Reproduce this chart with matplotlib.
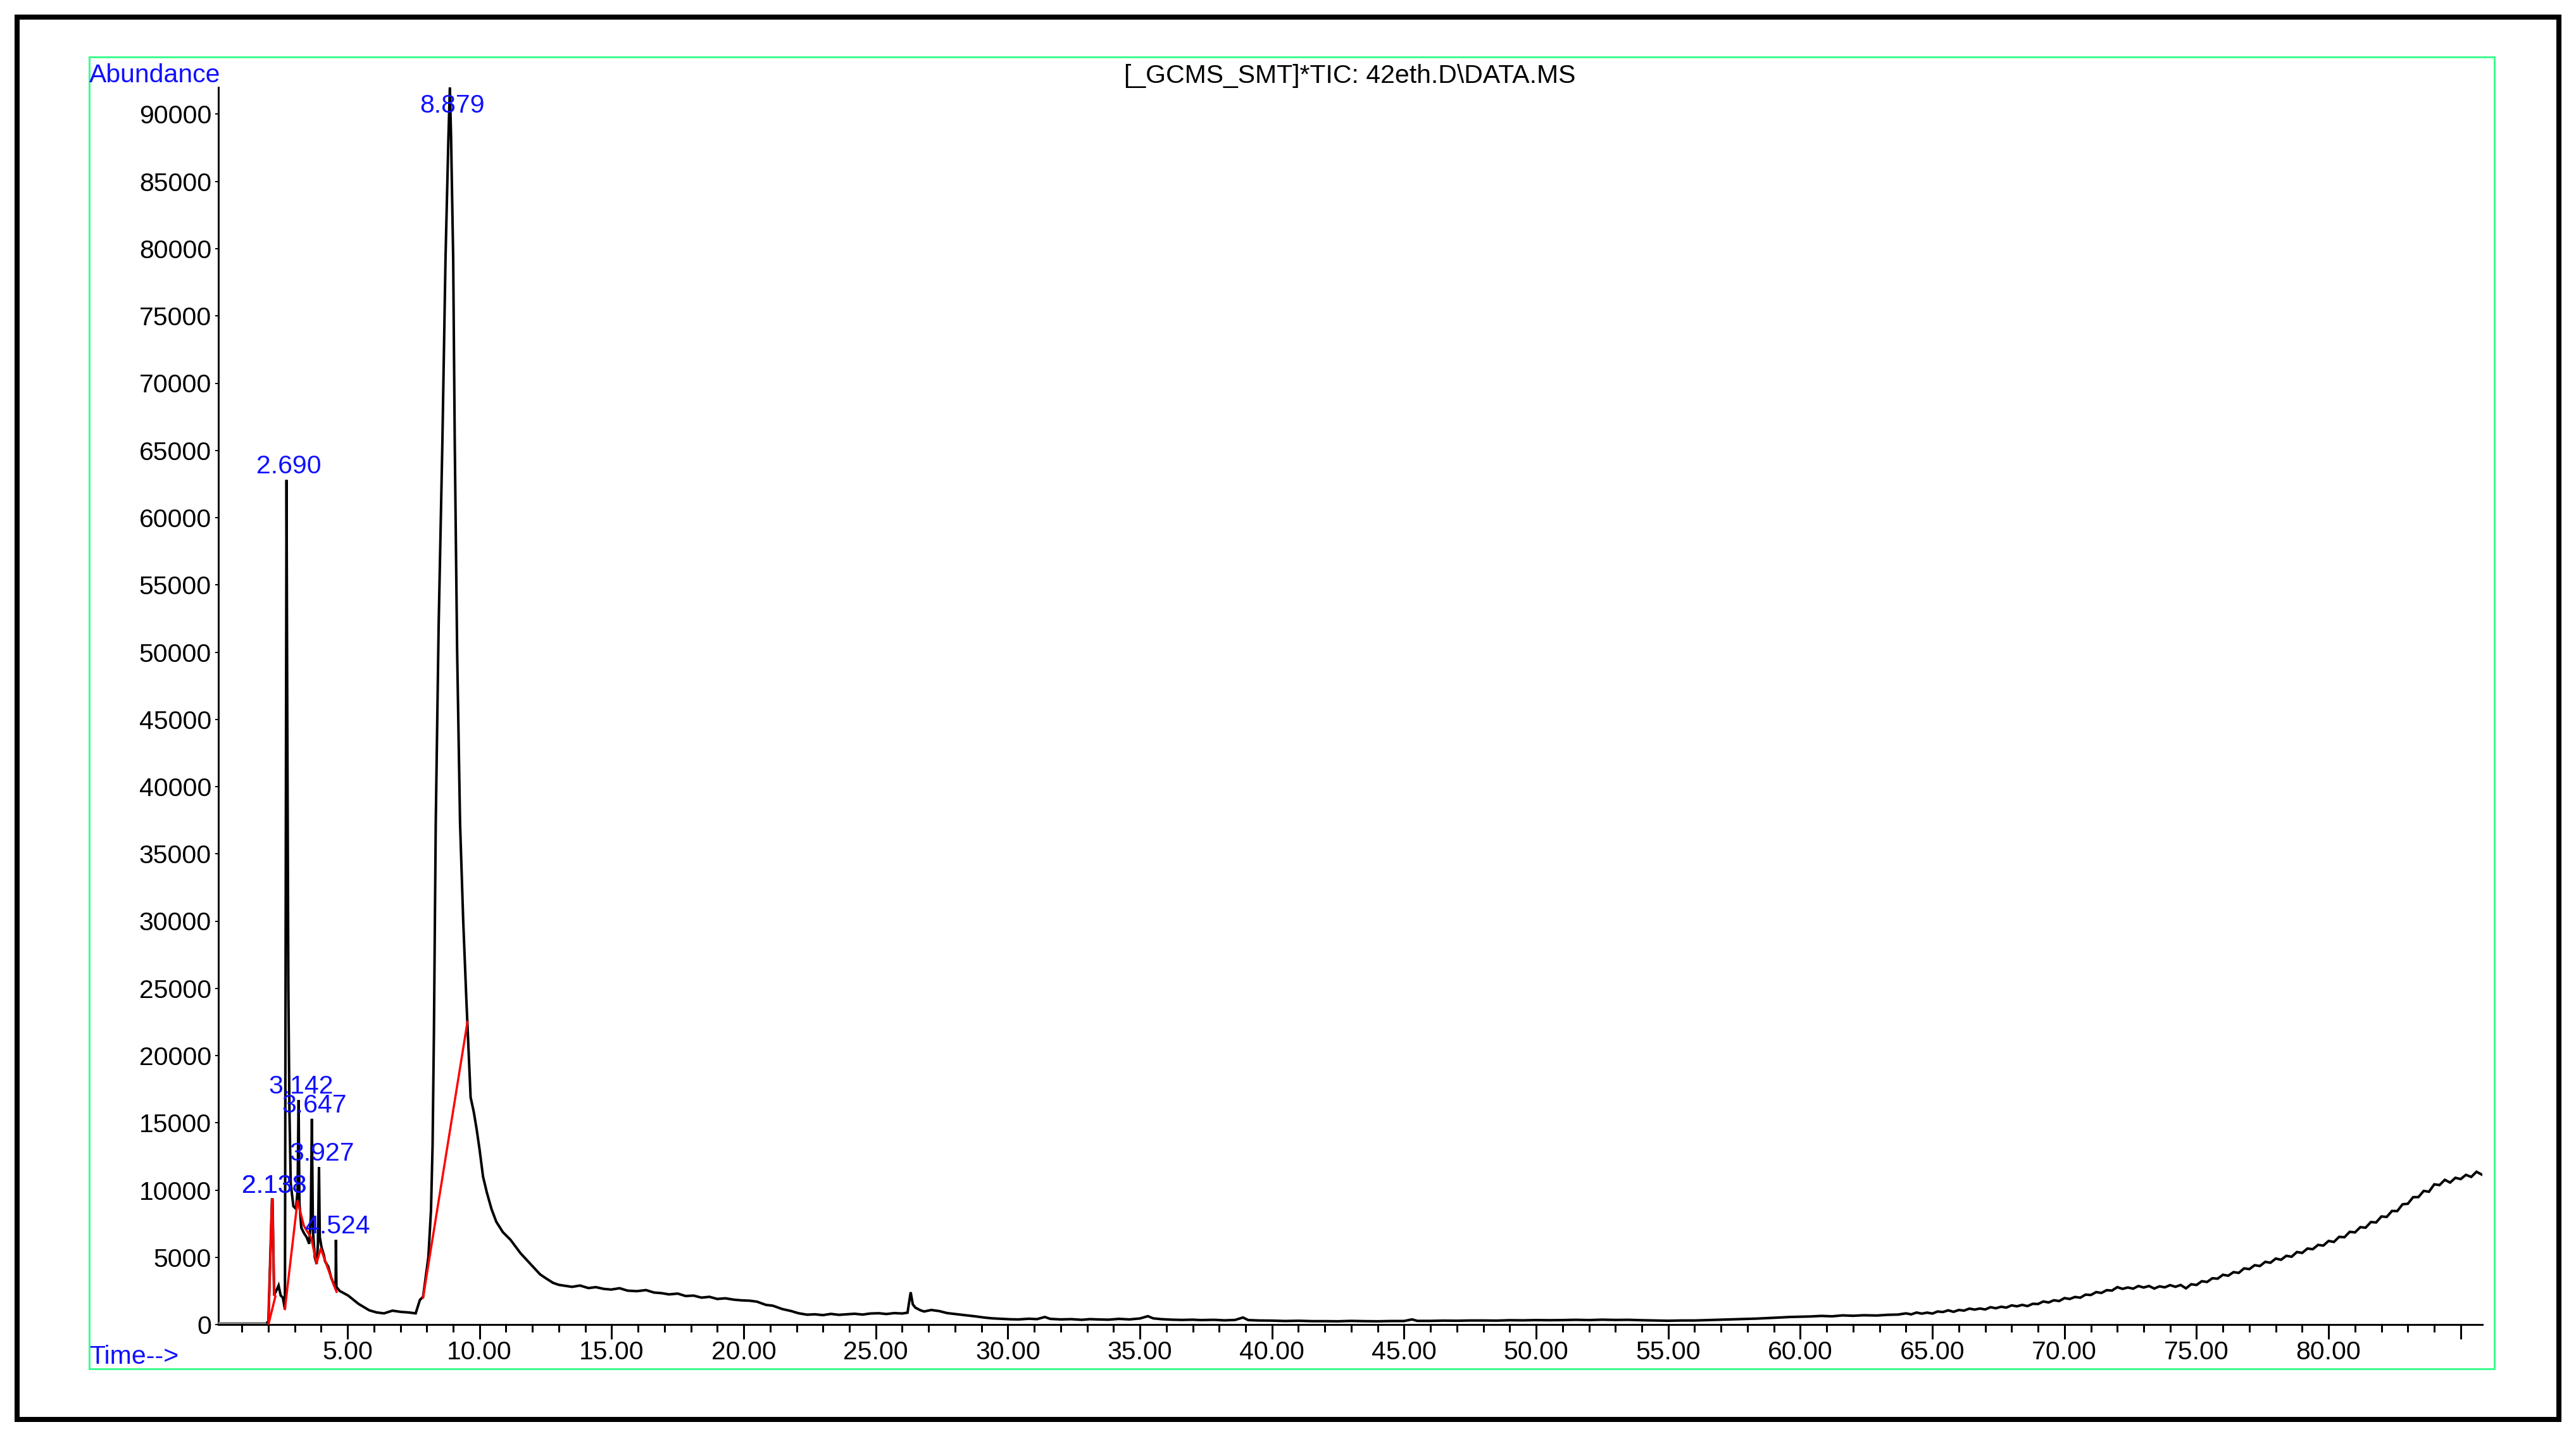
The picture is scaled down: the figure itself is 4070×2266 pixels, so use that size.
import matplotlib
matplotlib.use('Agg')
import matplotlib.pyplot as plt
from matplotlib.patches import Rectangle
from matplotlib.ticker import FixedLocator, MultipleLocator

plt.rcParams['font.family'] = ['Liberation Sans', 'DejaVu Sans']

# ---------------- data ----------------
time_min = [
    0.14, 1.97, 2.00, 2.14, 2.16, 2.22, 2.30, 2.39, 2.47, 2.55, 2.63,
    2.69, 2.72, 2.76, 2.80, 2.85, 2.95, 3.05, 3.11, 3.147, 3.18, 3.25,
    3.35, 3.45, 3.55, 3.61, 3.65, 3.69, 3.76, 3.83, 3.88, 3.92, 3.95,
    4.02, 4.10, 4.15, 4.27, 4.38, 4.50, 4.55, 4.56, 4.58, 4.70, 5.02,
    5.42, 5.82, 6.10, 6.38, 6.70, 7.02, 7.30, 7.58, 7.74, 7.86, 8.06,
    8.16, 8.22, 8.27, 8.34, 8.45, 8.59, 8.71, 8.82, 8.875, 8.92, 9.00,
    9.06, 9.15, 9.26, 9.38, 9.50, 9.58, 9.66, 9.78, 9.89, 10.00, 10.13,
    10.27, 10.45, 10.63, 10.88, 11.17, 11.55, 11.92, 12.29, 12.50, 12.78,
    13.00, 13.27, 13.50, 13.80, 14.12, 14.40, 14.70, 14.98, 15.30, 15.60,
    15.95, 16.30, 16.60, 16.90, 17.17, 17.50, 17.80, 18.10, 18.40, 18.70,
    19.00, 19.30, 19.62, 19.90, 20.23, 20.50, 20.84, 21.10, 21.46, 21.80,
    22.07, 22.40, 22.69, 23.00, 23.30, 23.60, 23.90, 24.20, 24.50, 24.80,
    25.12, 25.40, 25.70, 26.00, 26.20, 26.32, 26.40, 26.50, 26.70, 26.83,
    27.10, 27.40, 27.70, 28.00, 28.40, 28.80, 29.10, 29.40, 29.80, 30.10,
    30.40, 30.80, 31.10, 31.40, 31.60, 32.00, 32.40, 32.80, 33.10, 33.40,
    33.80, 34.20, 34.60, 35.00, 35.30, 35.50, 35.80, 36.20, 36.60, 37.00,
    37.30, 37.80, 38.20, 38.60, 38.90, 39.10, 39.50, 40.00, 40.50, 41.00,
    41.50, 42.00, 42.50, 43.00, 43.50, 44.00, 44.50, 45.00, 45.30, 45.50,
    46.00, 46.50, 47.00, 47.50, 48.00, 48.50, 49.00, 49.50, 50.00, 50.50,
    51.00, 51.50, 52.00, 52.50, 53.00, 53.50, 54.00, 54.50, 55.00, 55.50,
    56.00, 56.50, 57.00, 57.50, 58.00, 58.35, 58.80, 59.20, 59.60, 60.00,
    60.40, 60.80, 61.20, 61.60, 62.00, 62.40, 62.90, 63.30, 63.70,
    64.0, 64.2, 64.4, 64.6, 64.8, 65.0, 65.2, 65.4, 65.6, 65.8,
    66.0, 66.2, 66.4, 66.6, 66.8, 67.0, 67.2, 67.4, 67.6, 67.8,
    68.0, 68.2, 68.4, 68.6, 68.8, 69.0, 69.2, 69.4, 69.6, 69.8,
    70.0, 70.2, 70.4, 70.6, 70.8, 71.0, 71.2, 71.4, 71.6, 71.8,
    72.0, 72.2, 72.4, 72.6, 72.8, 73.0, 73.2, 73.4, 73.6, 73.8,
    74.0, 74.2, 74.4, 74.6, 74.8, 75.0, 75.2, 75.4, 75.6, 75.8,
    76.0, 76.2, 76.4, 76.6, 76.8, 77.0, 77.2, 77.4, 77.6, 77.8,
    78.0, 78.2, 78.4, 78.6, 78.8, 79.0, 79.2, 79.4, 79.6, 79.8,
    80.0, 80.2, 80.4, 80.6, 80.8, 81.0, 81.2, 81.4, 81.6, 81.8,
    82.0, 82.2, 82.4, 82.6, 82.8, 83.0, 83.2, 83.4, 83.6, 83.8,
    84.0, 84.2, 84.4, 84.6, 84.8, 85.0, 85.2, 85.4, 85.6, 85.8,
]
abundance = [
    160, 160, 0, 9300, 9300, 2200, 2500, 2900, 2160, 2000, 1150,
    62800, 45000, 25000, 16000, 10500, 8800, 8600, 10000, 16700, 9000, 7200,
    6800, 6500, 6000, 8000, 15300, 7000, 5000, 4500, 6000, 11700, 6500,
    5700, 5200, 4700, 4300, 3500, 2900, 2800, 6300, 2800, 2500, 2160,
    1530, 1060, 900, 830, 1030, 940, 900, 830, 1830, 2060, 5000,
    8500, 13300, 21500, 37300, 52000, 65500, 79300, 88300, 92000, 88300, 79300,
    65500, 50000, 37300, 30000, 24100, 20500, 16900, 15800, 14500, 13000, 11000,
    9850, 8590, 7650, 6870, 6300, 5300, 4515, 3730, 3450, 3100,
    2950, 2870, 2800, 2900, 2710, 2780, 2650, 2600, 2700, 2520,
    2480, 2560, 2380, 2330, 2240, 2300, 2120, 2150, 2000, 2060,
    1900, 1950, 1850, 1800, 1770, 1700, 1460, 1400, 1150, 1000,
    840, 730, 760, 700, 790, 720, 760, 800, 740, 820,
    840, 780, 850, 820, 880, 2400, 1500, 1250, 1050, 970,
    1080, 1000, 850, 780, 690, 600, 520, 460, 420, 390,
    380, 430, 400, 560, 420, 380, 400, 350, 400, 380,
    360, 420, 380, 450, 620, 460, 400, 360, 340, 360,
    330, 350, 310, 340, 520, 330, 300, 290, 260, 280,
    250, 250, 240, 270, 250, 240, 260, 260, 380, 270,
    270, 290, 280, 300, 300, 290, 320, 310, 330, 320,
    330, 350, 330, 360, 340, 350, 320, 300, 280, 300,
    300, 330, 360, 390, 420, 440, 480, 520, 560, 580,
    600, 640, 610, 680, 650, 690, 670, 720, 740,
    830, 755, 890, 810, 885, 815, 970, 930, 1055, 945,
    1080, 1035, 1185, 1110, 1190, 1120, 1290, 1210, 1320, 1260,
    1425, 1355, 1460, 1370, 1540, 1525, 1715, 1640, 1805, 1745,
    1965, 1900, 2050, 1995, 2225, 2195, 2410, 2350, 2555, 2525,
    2780, 2650, 2755, 2665, 2865, 2750, 2865, 2675, 2840, 2765,
    2930, 2805, 2940, 2690, 2995, 2940, 3220, 3165, 3440, 3410,
    3700, 3630, 3895, 3840, 4175, 4120, 4410, 4350, 4660, 4595,
    4905, 4815, 5110, 5040, 5390, 5325, 5650, 5600, 5920, 5870,
    6215, 6140, 6520, 6490, 6895, 6850, 7240, 7200, 7620, 7590,
    8035, 8000, 8445, 8435, 8940, 8980, 9470, 9475, 9935, 9875,
    10425, 10370, 10760, 10555, 10910, 10815, 11130, 10975, 11360, 11150,
]

# integration baselines (red)
base1_time = [2.005, 2.14, 2.16, 2.22]
base1_abund = [0, 9300, 9300, 2200]
base2_time = [2.005, 2.27]
base2_abund = [0, 2100]
base3_time = [2.63, 3.107, 3.347, 3.627, 3.826, 3.986, 4.504, 4.585]
base3_abund = [1150, 9200, 7340, 6430, 4560, 5650, 2820, 2430]
base4_time = [7.86, 9.54]
base4_abund = [2000, 22500]

# peak labels
peak_rt = [2.133, 2.138, 2.690, 3.142, 3.647, 3.927, 4.524, 8.879]
peak_height = [9300, 9300, 62800, 16700, 15300, 11700, 6300, 92000]
peak_label = ['2.133', '2.138', '2.690', '3.142', '3.647', '3.927', '4.524', '8.879']

y_ticks = list(range(0, 90001, 5000))
x_major = [5, 10, 15, 20, 25, 30, 35, 40, 45, 50, 55, 60, 65, 70, 75, 80, 85]
x_labels = ['5.00', '10.00', '15.00', '20.00', '25.00', '30.00', '35.00', '40.00',
            '45.00', '50.00', '55.00', '60.00', '65.00', '70.00', '75.00', '80.00', '']

title_text = '[_GCMS_SMT]*TIC: 42eth.D\\DATA.MS'

# ---------------- layout ----------------
W, H = 4070, 2266
DPI = 100
fig = plt.figure(figsize=(W / DPI, H / DPI), dpi=DPI)
fig.patch.set_facecolor('white')

def fx(px):
    return px / W

def fy(py):
    return 1 - py / H

PX = 72.0 / DPI  # points per pixel
FS = 29.5
BLUE = '#1010ff'
GREEN = '#3dfc8e'

# outer black frame
fig.patches.append(Rectangle((fx(27), fy(2243)), fx(4043) - fx(27), fy(27) - fy(2243),
                             transform=fig.transFigure, fill=False, edgecolor='black',
                             linewidth=8 * PX, zorder=0))
# green frame
fig.patches.append(Rectangle((fx(141), fy(2163)), fx(3941) - fx(141), fy(90) - fy(2163),
                             transform=fig.transFigure, fill=False, edgecolor=GREEN,
                             linewidth=3 * PX, zorder=0))

ax_left, ax_right, ax_top, ax_bottom = 345, 3922, 138, 2093
ax = fig.add_axes([fx(ax_left), fy(ax_bottom), fx(ax_right) - fx(ax_left), fy(ax_top) - fy(ax_bottom)])
ax.set_facecolor('none')

# pre-run flat part is drawn lighter, as in the reference
ax.plot(time_min[:2], abundance[:2], color='#8c8c8c', linewidth=3 * PX, zorder=3)
ax.plot(time_min[1:], abundance[1:], color='black', linewidth=4 * PX, zorder=3,
        solid_joinstyle='miter')
for bt, bv in [(base1_time, base1_abund), (base2_time, base2_abund),
               (base3_time, base3_abund), (base4_time, base4_abund)]:
    ax.plot(bt, bv, color='#ff0000', linewidth=3.5 * PX, zorder=4)

ax.set_xlim(0.11, 85.82)
ax.set_ylim(0, 92000)

for side in ['top', 'right']:
    ax.spines[side].set_visible(False)
for side in ['left', 'bottom']:
    ax.spines[side].set_linewidth(3 * PX)
    ax.spines[side].set_color('black')

ax.yaxis.set_major_locator(FixedLocator(y_ticks))
ax.set_yticklabels([str(v) for v in y_ticks])
ax.xaxis.set_major_locator(FixedLocator(x_major))
ax.set_xticklabels(x_labels)
ax.xaxis.set_minor_locator(MultipleLocator(1))

ax.tick_params(axis='y', which='major', direction='out', length=5 * PX, width=2 * PX,
               pad=6 * PX, labelsize=FS, labelcolor='black')
ax.tick_params(axis='x', which='major', direction='out', length=23 * PX, width=3 * PX,
               pad=2 * PX, labelsize=FS, labelcolor='black')
ax.tick_params(axis='x', which='minor', direction='out', length=12 * PX, width=3 * PX)

# peak labels
for rt, h, lab in zip(peak_rt, peak_height, peak_label):
    dy = 10 if h < 90000 else -40
    ax.annotate(lab, xy=(rt, h), xytext=(4 * PX, dy * PX), textcoords='offset points',
                ha='center', va='baseline', fontsize=FS, color=BLUE, zorder=6,
                annotation_clip=False)

# header texts
fig.text(fx(141), fy(130), 'Abundance', ha='left', va='baseline', fontsize=FS, color=BLUE)
fig.text(fx(2133), fy(131), title_text, ha='center', va='baseline', fontsize=FS, color='black')
fig.text(fx(141), fy(2155), 'Time-->', ha='left', va='baseline', fontsize=FS, color=BLUE)

fig.savefig('out.png', dpi=DPI)
